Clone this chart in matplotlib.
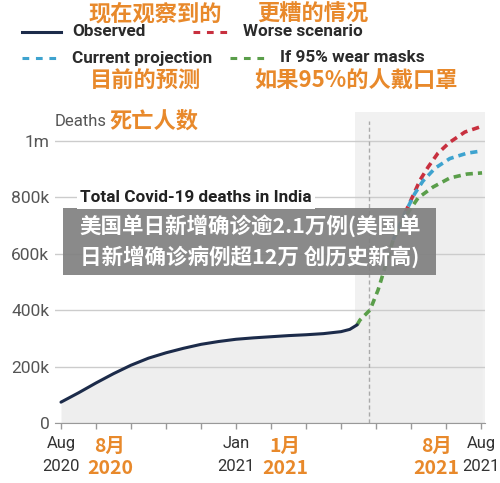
import matplotlib
matplotlib.use("Agg")
import matplotlib.pyplot as plt
from matplotlib.lines import Line2D
from matplotlib.patches import Rectangle

# months since Aug 2020, deaths in thousands
obs_month = [0, 0.5, 1, 1.5, 2, 2.5, 3, 3.5, 4, 4.5, 5, 5.5, 6, 6.5, 7, 7.5, 8, 8.25, 8.46]
obs_deaths = [74, 107, 142, 175, 205, 230, 249, 265, 279, 289, 297, 302, 306, 310, 313, 317, 324, 332, 348]

mask_month = [8.46, 8.54, 8.83, 9.06, 9.26, 9.49, 9.83, 10.2, 10.63, 11.11, 11.6, 12.03]
mask_deaths = [348, 365, 401, 472, 553, 649, 730, 798, 837, 869, 883, 887]

cur_month = [9.49, 9.83, 10.1, 10.34, 10.69, 11.11, 11.6, 12.03]
cur_deaths = [649, 745, 812, 858, 904, 938, 957, 965]

worse_month = [9.83, 10.1, 10.26, 10.49, 10.77, 11.11, 11.54, 11.97]
worse_deaths = [745, 818, 862, 908, 957, 996, 1032, 1050]

y_ticks = [0, 200, 400, 600, 800, 1000]
y_labels = ["0", "200k", "400k", "600k", "800k", "1m"]
x_labels = {0: ("Aug", "2020"), 5: ("Jan", "2021"), 12: ("Aug", "2021")}
cn_x_labels = [(1.4, "8月", "2020"), (6.4, "1月", "2021"), (10.72, "8月", "2021")]
today = 8.8
forecast_start = 8.4

ORANGE = "#e8892b"
NAVY = "#1c2b4a"
RED = "#c8303f"
BLUE = "#3ea3cf"
GREEN = "#5a9e4a"
EN = ["Roboto", "DejaVu Sans"]
CN = ["Noto Sans CJK SC", "DejaVu Sans"]

plt.rcParams["font.family"] = EN

fig = plt.figure(figsize=(5, 4.83), dpi=100)
ax = fig.add_axes([0.11, 0.1242, 0.86, 0.6439])
ax.set_xlim(-0.171, 12.114)
ax.set_ylim(0, 1103)

ax.axvspan(forecast_start, 13, color="#f1f1f1", lw=0, zorder=0)
ax.fill_between(obs_month, 0, obs_deaths, color="#eeeeee", lw=0, zorder=1)
ax.fill_between(mask_month, 0, mask_deaths, color="#eeeeee", lw=0, zorder=1)

dash = (0, (2, 1.4))
ax.plot(worse_month, worse_deaths, color=RED, lw=2.6, ls=dash, zorder=4)
ax.plot(cur_month, cur_deaths, color=BLUE, lw=2.6, ls=dash, zorder=4)
ax.plot(mask_month, mask_deaths, color=GREEN, lw=2.6, ls=dash, zorder=4)
ax.plot(obs_month, obs_deaths, color=NAVY, lw=2.2, zorder=5,
        solid_capstyle="round")
ax.plot([today, today], [0, 1071], color="#aaaaaa", lw=1, ls=(0, (3, 2)), zorder=3)

for s in ["top", "right", "left"]:
    ax.spines[s].set_visible(False)
ax.spines["bottom"].set_color("#999999")
ax.spines["bottom"].set_zorder(6)

ax.set_yticks(y_ticks)
ax.set_yticklabels(y_labels, color="#555555", fontsize=12.5)
ax.tick_params(axis="y", length=0, pad=4)
ax.yaxis.grid(True, color="#cccccc", lw=1, zorder=2)
ax.set_axisbelow(False)

ax.set_xticks(range(13))
ax.set_xticklabels([""] * 13)
ax.tick_params(axis="x", length=4, color="#999999", width=1)

for m, (a, b) in x_labels.items():
    ax.annotate(a, (m, 0), xycoords=("data", "axes fraction"), xytext=(0, -14.5),
                textcoords="offset points", ha="center", va="center",
                fontsize=12, color="#333333")
    ax.annotate(b, (m, 0), xycoords=("data", "axes fraction"), xytext=(0, -31),
                textcoords="offset points", ha="center", va="center",
                fontsize=12, color="#333333")
for m, a, b in cn_x_labels:
    ax.annotate(a, (m, 0), xycoords=("data", "axes fraction"), xytext=(0, -16.5),
                textcoords="offset points", ha="center", va="center",
                fontsize=14, color=ORANGE, fontweight="bold", family=CN)
    ax.annotate(b, (m, 0), xycoords=("data", "axes fraction"), xytext=(0, -32.5),
                textcoords="offset points", ha="center", va="center",
                fontsize=14, color=ORANGE, fontweight="bold", family=CN)

# overlay in pixel coordinates for legend and annotations
ov = fig.add_axes([0, 0, 1, 1], zorder=10)
ov.set_xlim(0, 500)
ov.set_ylim(483, 0)
ov.axis("off")
ov.patch.set_alpha(0)

ov.text(80, 198, "Total Covid-19 deaths in India", fontsize=12.3, fontweight="bold",
        color="#222222", va="center", ha="left",
        bbox=dict(facecolor="white", edgecolor="none", pad=2.5))
ov.text(55, 122, "Deaths", fontsize=12, color="#555555", va="center", ha="left")
ov.text(109, 121, "死亡人数", fontsize=16, color=ORANGE, fontweight="bold",
        va="center", ha="left", family=CN)

# legend
ov.add_line(Line2D([22, 61], [32, 32], color=NAVY, lw=2.2))
ov.add_line(Line2D([193, 231], [32, 32], color=RED, lw=2.2, ls=(0, (2.2, 2.2))))
ov.add_line(Line2D([22, 61], [58, 58], color=BLUE, lw=2.2, ls=(0, (2.2, 2.2))))
ov.add_line(Line2D([230, 267], [58, 58], color=GREEN, lw=2.2, ls=(0, (2.2, 2.2))))
leg_kw = dict(fontsize=12.3, fontweight="bold", color="#2b2b2b", va="center", ha="left")
ov.text(72, 32, "Observed", **leg_kw)
ov.text(243, 32, "Worse scenario", **leg_kw)
ov.text(72, 58, "Current projection", **leg_kw)
ov.text(280, 58, "If 95% wear masks", **leg_kw)
cn_kw = dict(fontsize=16, fontweight="bold", color=ORANGE, va="center", ha="left", family=CN)
ov.text(88, 14, "现在观察到的", **cn_kw)
ov.text(257, 14, "更糟的情况", **cn_kw)
ov.text(90, 80, "目前的预测", **cn_kw)
ov.text(254, 80, "如果95%的人戴口罩", **cn_kw)

# caption box
ov.add_patch(Rectangle((63, 208), 373, 67, facecolor="#808080", edgecolor="none", alpha=0.92))
cap_kw = dict(fontsize=15.5, fontweight="bold", color="white", va="center", ha="center", family=CN)
ov.text(250, 226, "美国单日新增确诊逾2.1万例(美国单", **cap_kw)
ov.text(250, 257, "日新增确诊病例超12万 创历史新高)", **cap_kw)

fig.savefig("out.png", dpi=100)
